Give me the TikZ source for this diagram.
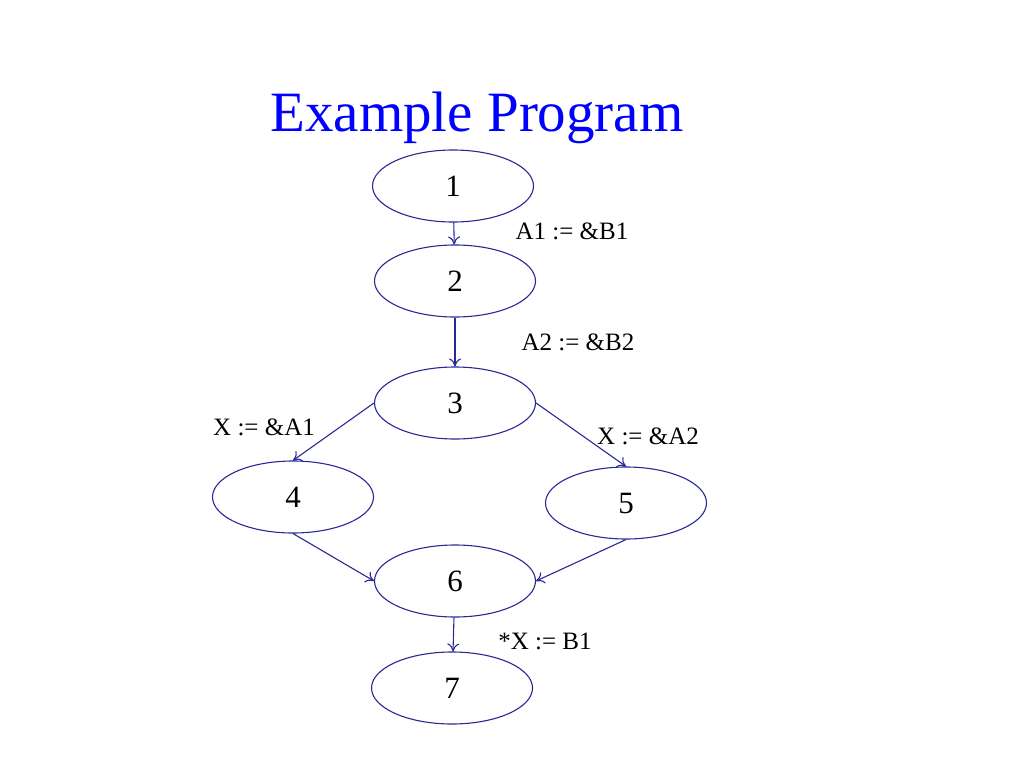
\documentclass[tikz,border=0pt]{standalone}
\usepackage{fontspec}
\setmainfont{Liberation Serif}
\usetikzlibrary{shapes.geometric,arrows.meta}
\definecolor{ln}{RGB}{40,40,150}
\begin{document}
\begin{tikzpicture}[x=1pt,y=-1pt,line width=1.1pt,
  nd/.style={draw=ln,ellipse,minimum width=161pt,minimum height=72pt,inner sep=0pt,font=\fontsize{31}{33}\selectfont},
  ed/.style={draw=ln,-{To[length=8pt,width=12pt]}},
  lb/.style={font=\fontsize{25}{27}\selectfont}]
\useasboundingbox (0,0) rectangle (1024,768);
\node[text=blue,font=\fontsize{57}{60}\selectfont] (t) at (477,118) {Example Program};
\node[nd] (n1) at (453,186) {1};
\node[nd] (n2) at (455,281) {2};
\node[nd] (n3) at (455,403) {3};
\node[nd] (n4) at (293,497) {4};
\node[nd] (n5) at (626,503) {5};
\node[nd] (n6) at (455,581) {6};
\node[nd] (n7) at (452,688) {7};
\draw[ed] (n1) -- (n2);
\draw[ed] (n2) -- (n3);
\draw[ed] (n3.west) -- (n4.north);
\draw[ed] (n3.east) -- (n5.north);
\draw[ed] (n4.south) -- (n6.west);
\draw[ed] (n5.south) -- (n6.east);
\draw[ed] (n6) -- (n7);
\node[lb] (l1) at (572,231) {A1 := \&B1};
\node[lb] (l2) at (578,342) {A2 := \&B2};
\node[lb] (l3) at (264,427) {X := \&A1};
\node[lb] (l4) at (648,436) {X := \&A2};
\node[lb] (l5) at (545,641) {*X := B1};
\end{tikzpicture}
\end{document}
